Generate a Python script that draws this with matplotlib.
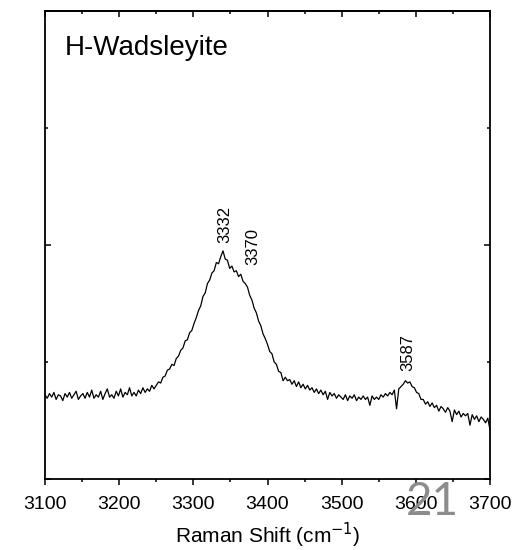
import numpy as np
import matplotlib
matplotlib.use("Agg")
import matplotlib.pyplot as plt
from matplotlib.ticker import MultipleLocator

plt.rcParams['font.family'] = ['Liberation Sans', 'DejaVu Sans']

intensidade = [
    0.72, 0.69, 0.73, 0.70, 0.74, 0.68, 0.72, 0.71, 0.67, 0.73,  # 3100
    0.70, 0.74, 0.69, 0.72, 0.75, 0.68, 0.71, 0.73, 0.69, 0.74,  # 3130
    0.70, 0.76, 0.69, 0.72, 0.70, 0.75, 0.68, 0.73, 0.77, 0.70,  # 3160
    0.72, 0.69, 0.75, 0.71, 0.77, 0.70, 0.74, 0.72, 0.78, 0.71,  # 3190
    0.74, 0.71, 0.76, 0.73, 0.78, 0.74, 0.77, 0.75, 0.80, 0.77,  # 3220
    0.80, 0.83, 0.82, 0.87, 0.88, 0.93, 0.94, 0.98, 0.97, 1.03,  # 3250
    1.05, 1.10, 1.12, 1.18, 1.19, 1.25, 1.27, 1.33, 1.38, 1.44,  # 3280
    1.48, 1.56, 1.59, 1.67, 1.70, 1.76, 1.78, 1.85, 1.84, 1.90,  # 3310
    1.95, 1.88, 1.87, 1.80, 1.82, 1.77, 1.78, 1.73, 1.75, 1.69,  # 3340
    1.67, 1.64, 1.57, 1.53, 1.46, 1.42, 1.35, 1.31, 1.24, 1.20,  # 3370
    1.15, 1.09, 1.07, 1.00, 0.98, 0.92, 0.91, 0.84, 0.87, 0.84,  # 3400
    0.85, 0.81, 0.84, 0.79, 0.83, 0.78, 0.81, 0.77, 0.80, 0.76,  # 3430
    0.78, 0.74, 0.77, 0.73, 0.76, 0.72, 0.75, 0.68, 0.74, 0.71,  # 3460
    0.73, 0.69, 0.72, 0.70, 0.68, 0.72, 0.67, 0.71, 0.69, 0.72,  # 3490
    0.67, 0.70, 0.68, 0.71, 0.68, 0.70, 0.63, 0.71, 0.68, 0.70,  # 3520
    0.68, 0.72, 0.70, 0.73, 0.71, 0.74, 0.72, 0.76, 0.60, 0.77,  # 3550
    0.79, 0.81, 0.84, 0.82, 0.83, 0.79, 0.78, 0.74, 0.73, 0.68,  # 3580
    0.68, 0.64, 0.66, 0.62, 0.65, 0.61, 0.63, 0.58, 0.62, 0.60,  # 3610
    0.57, 0.61, 0.58, 0.49, 0.59, 0.55, 0.58, 0.53, 0.56, 0.54,  # 3640
    0.56, 0.46, 0.55, 0.51, 0.54, 0.49, 0.53, 0.51, 0.48, 0.52,  # 3670
    0.42,                                                        # 3700
]
numero_onda = 3100 + 3 * np.arange(len(intensidade))

# peak labels: (text, x, y of label bottom)
picos = [('3332', 3343, 2.02), ('3370', 3380, 1.83), ('3587', 3589, 0.92)]

fig = plt.figure(figsize=(5.14, 5.5), dpi=100)
ax = fig.add_axes([45 / 514, 1 - 479 / 550, 445 / 514, 468 / 550])

ax.plot(numero_onda, intensidade, '-', color='black', linewidth=0.9)

for texto, xp, yp in picos:
    ax.text(xp, yp, texto, rotation=90, ha='center', va='bottom', fontsize=12)

ax.text(0.045, 0.906, 'H-Wadsleyite', transform=ax.transAxes, fontsize=20,
        ha='left', va='baseline')

ax.set_xlim(3100, 3700)
ax.set_ylim(0, 4)
ax.xaxis.set_major_locator(MultipleLocator(100))
ax.xaxis.set_minor_locator(MultipleLocator(50))
ax.yaxis.set_major_locator(MultipleLocator(2))
ax.yaxis.set_minor_locator(MultipleLocator(1))

ax.tick_params(axis='x', which='both', direction='out', top=False, labelsize=14, width=1.1, pad=8)
ax.tick_params(axis='x', which='major', length=4.5)
ax.tick_params(axis='x', which='minor', length=2.2)
ax.tick_params(axis='y', which='both', direction='in', left=True, right=True,
               labelleft=False, width=1.1)
ax.tick_params(axis='y', which='major', length=4.5)
ax.tick_params(axis='y', which='minor', length=2.2)

# top ticks point inward
topo = ax.secondary_xaxis('top')
topo.xaxis.set_major_locator(MultipleLocator(100))
topo.xaxis.set_minor_locator(MultipleLocator(50))
topo.tick_params(which='both', direction='in', labeltop=False, width=1.1)
topo.tick_params(which='major', length=4.5)
topo.tick_params(which='minor', length=2.2)
topo.spines['top'].set_linewidth(1.3)

for s in ax.spines.values():
    s.set_linewidth(1.3)

ax.set_xlabel('Raman Shift (cm$^{-1}$)', fontsize=15, labelpad=5)

# page number overlay
fig.text(432 / 514, 1 - 515 / 550, '21', color='#8c8c8c', fontsize=33,
         family=['Lato', 'DejaVu Sans'], ha='center', va='baseline')

fig.savefig('out.png', dpi=100)
